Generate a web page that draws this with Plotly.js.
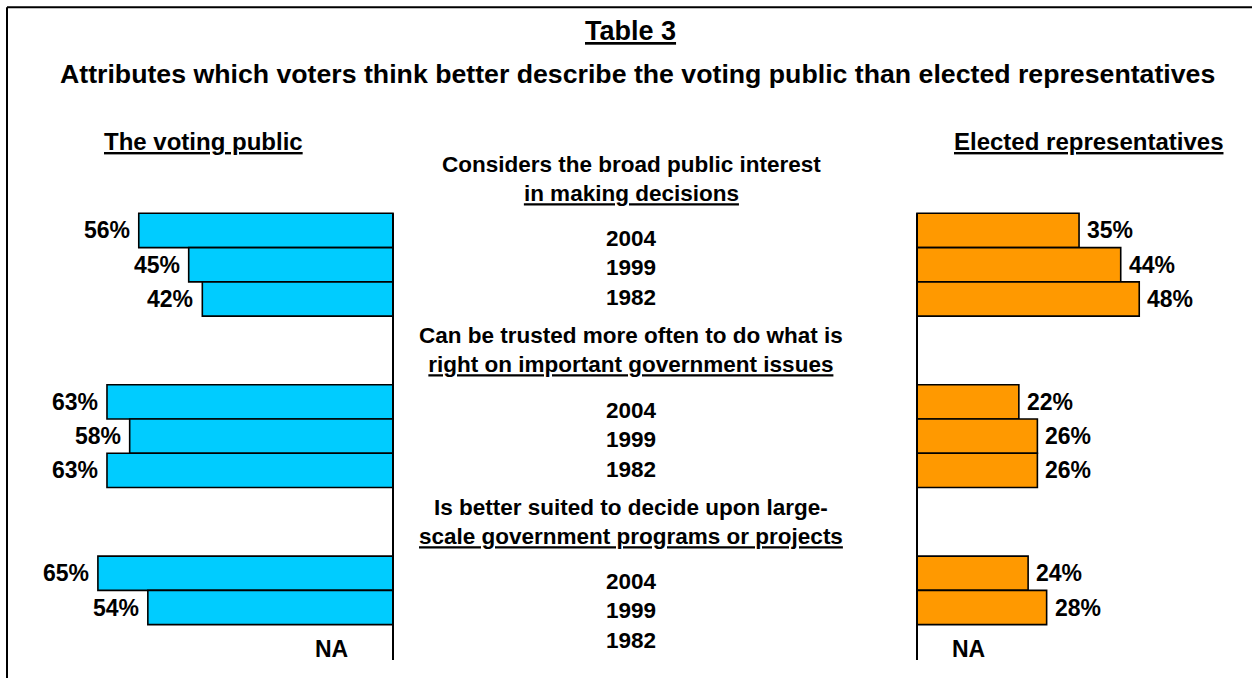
<!DOCTYPE html>
<html><head><meta charset="utf-8">
<script src="https://cdn.plot.ly/plotly-3.0.1.min.js"></script>
<style>html,body{margin:0;padding:0;background:#fff}</style>
</head><body><div id="chart" style="width:1252px;height:678px"></div>
<script>
// ---- data ----
const chartTitle = 'Table 3';
const chartSubtitle = 'Attributes which voters think better describe the voting public than elected representatives';
const leftHeader = 'The voting public';
const rightHeader = 'Elected representatives';
const years = ['2004', '1999', '1982'];
const questionLine1 = ['Considers the broad public interest', 'Can be trusted more often to do what is', 'Is better suited to decide upon large-'];
const questionLine2 = ['in making decisions', 'right on important government issues', 'scale government programs or projects'];
const votingPublic = [[56, 45, 42], [63, 58, 63], [65, 54, null]];
const electedReps  = [[35, 44, 48], [22, 26, 26], [24, 28, null]];
const naLabel = 'NA';

// ---- layout helpers ----
const W = 1252, H = 678;
const FONT = 'Liberation Sans, Arial, sans-serif';
const groupStep = 5;
const pos = (g, k) => g * groupStep + k;

const yPos = [], pubX = [], repX = [];
votingPublic.forEach((grp, g) => grp.forEach((v, k) => { yPos.push(pos(g, k)); pubX.push(v); repX.push(electedReps[g][k]); }));

const barLine = {color: '#000', width: 1.6};
const traces = [
  {type: 'bar', orientation: 'h', x: pubX, y: yPos, width: 1, xaxis: 'x', yaxis: 'y',
   marker: {color: '#00CCFF', line: barLine}, hoverinfo: 'skip', cliponaxis: false},
  {type: 'bar', orientation: 'h', x: repX, y: yPos, width: 1, xaxis: 'x2', yaxis: 'y',
   marker: {color: '#FF9900', line: barLine}, hoverinfo: 'skip', cliponaxis: false}
];

const ann = [];
const txt = (o) => Object.assign({showarrow: false, xanchor: 'center', yanchor: 'middle', font: {family: FONT, size: 23, color: '#000'}}, o);
const bold = s => '<b>' + s + '</b>';

// value labels
yPos.forEach((y, i) => {
  if (pubX[i] != null) ann.push(txt({xref: 'x', yref: 'y', x: pubX[i], y: y, text: bold(pubX[i] + '%'), xanchor: 'right', xshift: -7}));
  else ann.push(txt({xref: 'x', yref: 'y', x: 0, y: y, text: bold(naLabel), xanchor: 'right', xshift: -43, yshift: -7}));
  if (repX[i] != null) ann.push(txt({xref: 'x2', yref: 'y', x: repX[i], y: y, text: bold(repX[i] + '%'), xanchor: 'left', xshift: 6}));
  else ann.push(txt({xref: 'x2', yref: 'y', x: 0, y: y, text: bold(naLabel), xanchor: 'left', xshift: 33, yshift: -7}));
});

// center column: questions and years
const midX = 631 / W;
questionLine1.forEach((q, g) => {
  ann.push(txt({xref: 'paper', yref: 'y', x: midX, y: pos(g, 0) - 1.5, 
    text: bold(q + '<br><u>' + questionLine2[g] + '</u>'), font: {family: FONT, size: 22.5, color: '#000'}}));
  ann.push(txt({xref: 'paper', yref: 'y', x: midX, y: pos(g, 1) + 0.1,
    text: bold(years.join('<br>')), font: {family: FONT, size: 22.5, color: '#000'}}));
});

// titles & headers
ann.push(txt({xref: 'paper', yref: 'paper', x: 630 / W, y: 1 - 31 / H, text: bold('<u>' + chartTitle + '</u>'), font: {family: FONT, size: 27, color: '#000'}}));
ann.push(txt({xref: 'paper', yref: 'paper', x: 637 / W, y: 1 - 74 / H, text: bold(chartSubtitle), font: {family: FONT, size: 26.7, color: '#000'}}));
ann.push(txt({xref: 'paper', yref: 'paper', x: 203.5 / W, y: 1 - 142 / H, text: bold('<u>' + leftHeader + '</u>'), font: {family: FONT, size: 24, color: '#000'}}));
ann.push(txt({xref: 'paper', yref: 'paper', x: 1088 / W, y: 1 - 142 / H, text: bold('<u>' + rightHeader + '</u>'), font: {family: FONT, size: 24, color: '#000'}}));

// y scale: slot -0.5 at 213.3px, 34.28 px per slot
const pxPerSlot = 34.28, topPx = 213.3;
const yTop = -0.5 - topPx / pxPerSlot;
const yBot = -0.5 + (H - topPx) / pxPerSlot;
const axisEnd = -0.5 + (660 - topPx) / pxPerSlot;

const leftZero = 393, rightZero = 917, pad = 8;
const leftScale = 4.54, rightScale = 4.63;

const hidden = {showgrid: false, zeroline: false, showticklabels: false, ticks: '', showline: false, fixedrange: true};
const layout = {
  width: W, height: H,
  margin: {l: 0, r: 0, t: 0, b: 0, pad: 0},
  paper_bgcolor: '#fff', plot_bgcolor: 'rgba(0,0,0,0)',
  showlegend: false,
  bargap: 0,
  xaxis: Object.assign({domain: [0, (leftZero + pad) / W], range: [leftZero / leftScale, -pad / leftScale], anchor: 'y'}, hidden),
  xaxis2: Object.assign({domain: [(rightZero - pad) / W, 1], range: [-pad / rightScale, (W - rightZero) / rightScale], anchor: 'y'}, hidden),
  yaxis: Object.assign({domain: [0, 1], range: [yBot, yTop], anchor: 'x'}, hidden),
  shapes: [
    {type: 'line', xref: 'paper', yref: 'paper', x0: 7 / W, x1: 1.02, y0: 1 - 7.3 / H, y1: 1 - 7.3 / H, line: {color: '#000', width: 2}},
    {type: 'line', xref: 'paper', yref: 'paper', x0: 7 / W, x1: 7 / W, y0: 1 - 7.3 / H, y1: -0.02, line: {color: '#000', width: 2}},
    {type: 'line', xref: 'x', yref: 'y', x0: 0, x1: 0, y0: -0.5, y1: axisEnd, line: {color: '#000', width: 2}},
    {type: 'line', xref: 'x2', yref: 'y', x0: 0, x1: 0, y0: -0.5, y1: axisEnd, line: {color: '#000', width: 2}}
  ],
  annotations: ann
};

Plotly.newPlot('chart', traces, layout, {displayModeBar: false, staticPlot: true});
</script>
</body></html>
